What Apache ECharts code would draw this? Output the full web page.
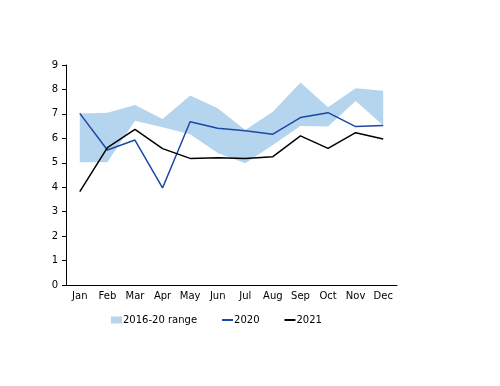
<!DOCTYPE html>
<html><head><meta charset="utf-8">
<script src="https://cdn.jsdelivr.net/npm/echarts@6/dist/echarts.min.js"></script>
<style>html,body{margin:0;padding:0;background:#fff}#c{width:500px;height:386px}</style>
</head><body><div id="c"></div>
<script>
var months = ['Jan','Feb','Mar','Apr','May','Jun','Jul','Aug','Sep','Oct','Nov','Dec'];
var rangeLow  = [5.02, 5.02, 6.72, 6.45, 6.17, 5.40, 4.98, 5.73, 6.50, 6.48, 7.53, 6.52];
var rangeHigh = [7.02, 7.05, 7.36, 6.79, 7.75, 7.23, 6.34, 7.09, 8.28, 7.27, 8.05, 7.95];
var s2020 = [7.02, 5.52, 5.93, 3.97, 6.68, 6.41, 6.31, 6.17, 6.85, 7.05, 6.48, 6.53];
var s2021 = [3.82, 5.62, 6.37, 5.58, 5.18, 5.21, 5.18, 5.25, 6.10, 5.59, 6.23, 5.97];
var yTicks = [0,1,2,3,4,5,6,7,8,9];

var rangeSpan = rangeHigh.map(function(v,i){ return +(v - rangeLow[i]).toFixed(2); });
var FONT = 'DejaVu Sans';
var chart = echarts.init(document.getElementById('c'));
chart.setOption({
  animation: false,
  textStyle: {fontFamily: FONT},
  grid: {left: 66, right: 103, top: 65, bottom: 101},
  legend: {
    left: 106, top: 310, itemWidth: 11, itemHeight: 7, itemGap: 24,
    textStyle: {fontFamily: FONT, fontSize: 10, color: '#000', padding: [0,0,0,-4]},
    data: [{name: '2016-20 range', icon: 'rect'},
           {name: '2020', itemStyle: {opacity: 0}},
           {name: '2021', itemStyle: {opacity: 0}}]
  },
  xAxis: {
    type: 'category', data: months, boundaryGap: true,
    axisLine: {lineStyle: {color: '#000', width: 1}},
    axisTick: {alignWithLabel: false, length: 4, lineStyle: {color: '#000'}},
    axisLabel: {color: '#000', fontSize: 10, margin: 6, interval: 0}
  },
  yAxis: {
    type: 'value', min: yTicks[0], max: yTicks[yTicks.length-1], interval: 1,
    axisLine: {show: true, lineStyle: {color: '#000', width: 1}},
    axisTick: {show: true, length: 4, lineStyle: {color: '#000'}},
    splitLine: {show: false},
    axisLabel: {color: '#000', fontSize: 10, margin: 8}
  },
  series: [
    {name: 'low', type: 'line', stack: 'r', data: rangeLow, symbol: 'none',
     lineStyle: {opacity: 0}, areaStyle: {opacity: 0}, silent: true},
    {name: '2016-20 range', type: 'line', stack: 'r', data: rangeSpan, symbol: 'none',
     itemStyle: {color: '#b5d5ee'}, lineStyle: {opacity: 0, width: 0},
     areaStyle: {color: '#b5d5ee', opacity: 1}},
    {name: '2020', type: 'line', data: s2020, symbol: 'none',
     itemStyle: {color: '#1a48a6'}, lineStyle: {color: '#1a48a6', width: 1.5}},
    {name: '2021', type: 'line', data: s2021, symbol: 'none',
     itemStyle: {color: '#000'}, lineStyle: {color: '#000', width: 1.5}}
  ]
});
</script></body></html>
